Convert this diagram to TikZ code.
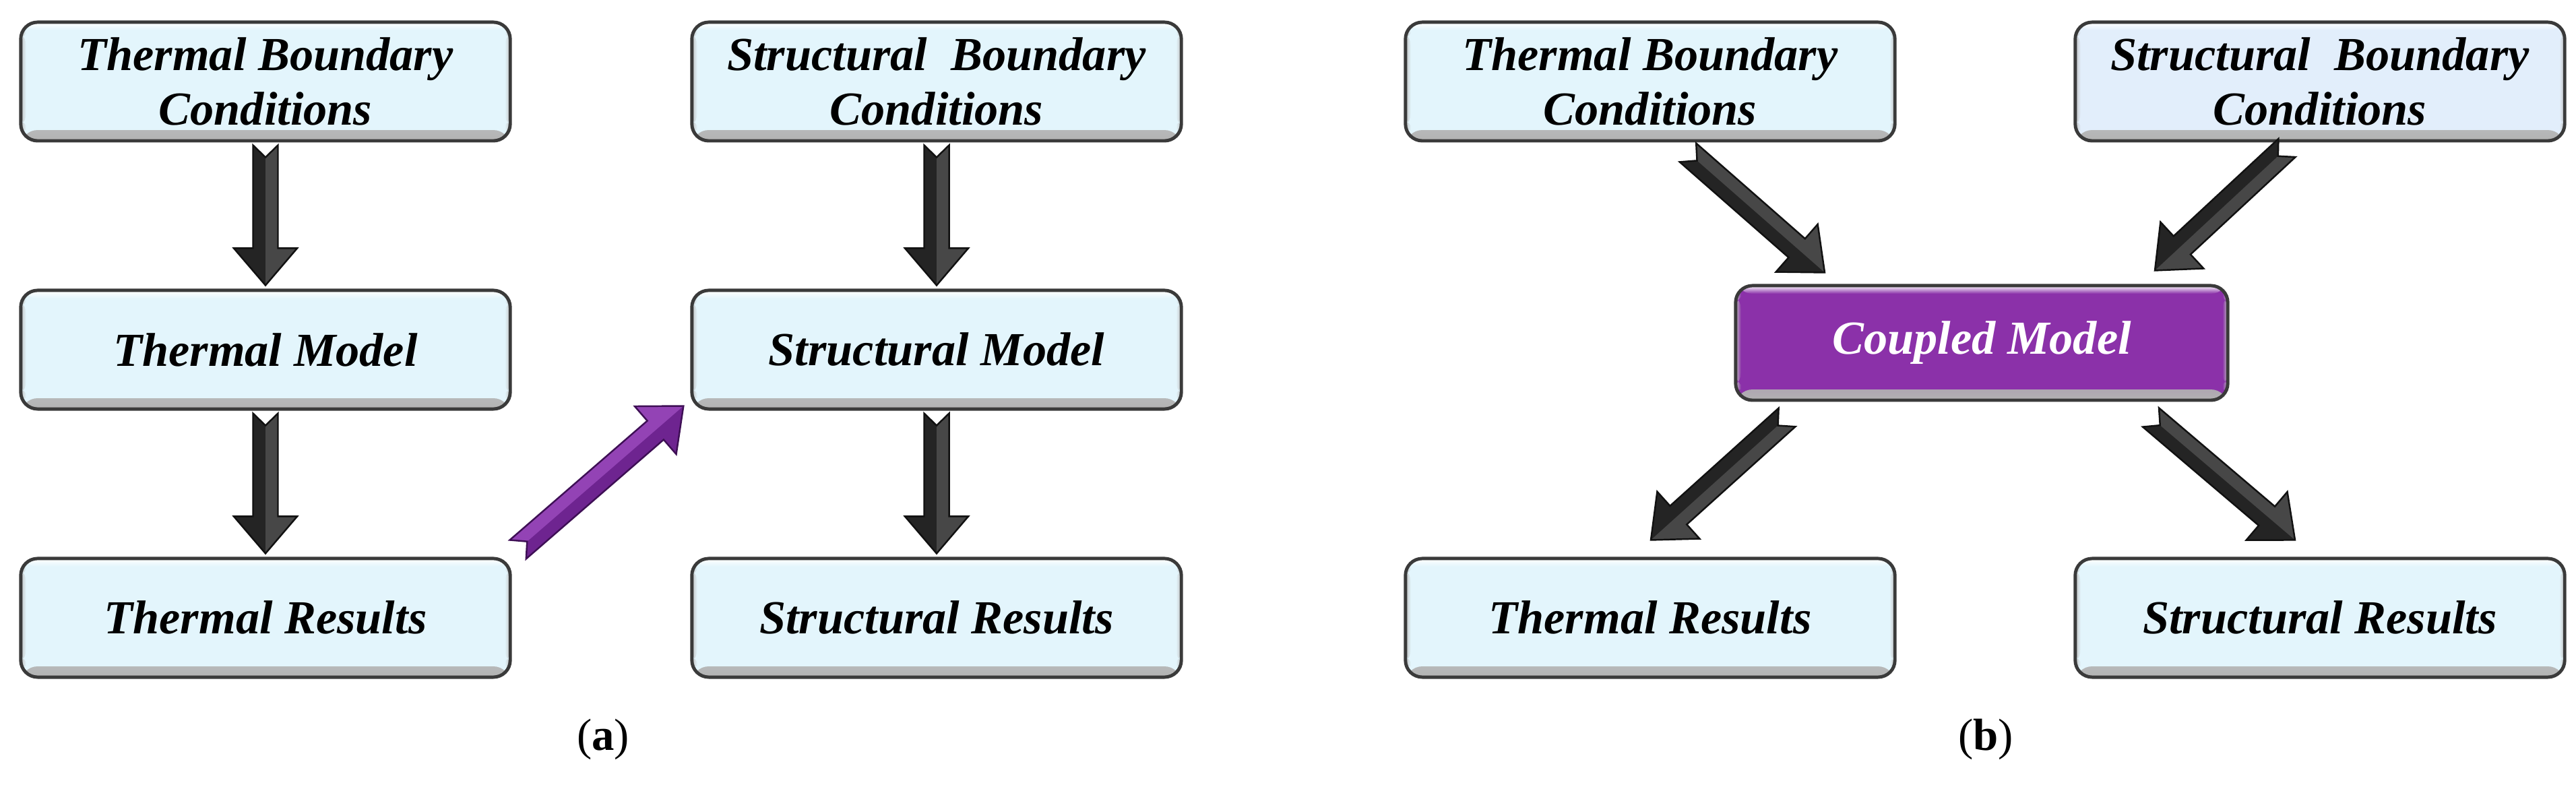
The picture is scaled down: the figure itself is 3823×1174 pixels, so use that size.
\documentclass[tikz,border=0pt]{standalone}
\usepackage{fontspec}
\setmainfont{Liberation Serif}
\usetikzlibrary{calc}
\definecolor{boxfill}{HTML}{E3F5FC}
\definecolor{boxfillb}{HTML}{E2EEFB}
\definecolor{boxline}{HTML}{3A3A3A}
\definecolor{arrowdark}{HTML}{242424}
\definecolor{arrowlight}{HTML}{474747}
\definecolor{arrowline}{HTML}{111111}
\definecolor{purplefill}{HTML}{8B31A9}
\definecolor{purpledark}{HTML}{6E2490}
\definecolor{purplelight}{HTML}{9343B5}
\definecolor{purpleline}{HTML}{3E0F55}
\tikzset{
  flowbox/.style={draw=boxline, line width=1.4pt, rounded corners=0.25cm,
    fill=#1, minimum width=7.26cm, minimum height=1.76cm, align=center,
    font=\fontsize{20}{23}\selectfont\bfseries\itshape,
    path picture={
      \shade[top color=#1, bottom color=black!30]
        ([yshift=0.16cm]path picture bounding box.south west) rectangle (path picture bounding box.south east);
      \shade[top color=white, bottom color=#1]
        (path picture bounding box.north west) rectangle ([yshift=-0.12cm]path picture bounding box.north east);
      \shade[left color=black!25, right color=#1]
        ([yshift=-0.1cm]path picture bounding box.north west) rectangle ([xshift=0.08cm,yshift=0.16cm]path picture bounding box.south west);
      \shade[right color=black!25, left color=#1]
        ([yshift=-0.1cm]path picture bounding box.north east) rectangle ([xshift=-0.08cm,yshift=0.16cm]path picture bounding box.south east);
    }},
  flowbox/.default=boxfill,
  blockarrow/.style={to path={
    ($(\tikztostart)!0.185cm!90:(\tikztotarget)$)
    -- ($(\tikztotarget)!0.55cm!(\tikztostart)!0.185cm!-90:(\tikztostart)$)
    -- ($(\tikztotarget)!0.55cm!(\tikztostart)!0.47cm!-90:(\tikztostart)$)
    -- (\tikztotarget)
    -- ($(\tikztotarget)!0.55cm!(\tikztostart)!0.47cm!90:(\tikztostart)$)
    -- ($(\tikztotarget)!0.55cm!(\tikztostart)!0.185cm!90:(\tikztostart)$)
    -- ($(\tikztostart)!0.185cm!-90:(\tikztotarget)$)
    -- ($(\tikztostart)!0.18cm!(\tikztotarget)$)
    -- cycle}},
  halfarrow/.style={to path={
    ($(\tikztostart)!0.18cm!(\tikztotarget)$)
    -- ($(\tikztostart)!0.185cm!90:(\tikztotarget)$)
    -- ($(\tikztotarget)!0.55cm!(\tikztostart)!0.185cm!-90:(\tikztostart)$)
    -- ($(\tikztotarget)!0.55cm!(\tikztostart)!0.47cm!-90:(\tikztostart)$)
    -- (\tikztotarget)
    -- cycle}},
  darkbase/.style={fill=arrowdark},
  darkhalf/.style={fill=arrowlight},
  darkedge/.style={draw=arrowline, line width=0.7pt, line join=miter},
  purplebase/.style={fill=purpledark},
  purplehalf/.style={fill=purplelight},
  purpleedge/.style={draw=purpleline, line width=0.7pt, line join=miter},
  sublabel/.style={font=\fontsize{19}{22}\selectfont}
}
% #1 = colour family (dark/purple), #2 = start, #3 = end
\newcommand{\bevelarrow}[3]{%
  \path[#1base] (#2) to[blockarrow] (#3);
  \path[#1half] (#2) to[halfarrow] (#3);
  \path[#1edge] (#2) to[blockarrow] (#3);
}
\begin{document}
\begin{tikzpicture}[x=0.01cm, y=-0.01cm]
\useasboundingbox (0,0) rectangle (3823,1174);
% panel (a)
\node[flowbox] (tbc) at (394,121) {Thermal Boundary\\Conditions};
\node[flowbox] (tm) at (394,519) {Thermal Model};
\node[flowbox] (tr) at (394,917) {Thermal Results};
\node[flowbox] (sbc) at (1390,121) {Structural~ Boundary\\Conditions};
\node[flowbox] (sm) at (1390,519) {Structural Model};
\node[flowbox] (sr) at (1390,917) {Structural Results};
\bevelarrow{dark}{$(tbc.south)+(0,4)$}{$(tm.north)+(0,-5)$}
\bevelarrow{dark}{$(tm.south)+(0,4)$}{$(tr.north)+(0,-5)$}
\bevelarrow{dark}{$(sbc.south)+(0,4)$}{$(sm.north)+(0,-5)$}
\bevelarrow{dark}{$(sm.south)+(0,4)$}{$(sr.north)+(0,-5)$}
\bevelarrow{purple}{$(tr.north east)+(9,-11)$}{$(sm.south west)+(-10,-7)$}
\node[sublabel] (la) at (895,1097) {(\textbf{a})};
% panel (b)
\node[flowbox] (tbc2) at (2449,121) {Thermal Boundary\\Conditions};
\node[flowbox=boxfillb] (sbc2) at (3443,121) {Structural~ Boundary\\Conditions};
\node[flowbox=purplefill, minimum width=7.3cm, minimum height=1.7cm, text=white] (cm) at (2941,509) {Coupled Model};
\node[flowbox] (tr2) at (2449,917) {Thermal Results};
\node[flowbox] (sr2) at (3443,917) {Structural Results};
\bevelarrow{dark}{$(tbc2.south)+(56,15)$}{$(cm.north)+(-233,-17)$}
\bevelarrow{dark}{$(sbc2.south)+(-49,8)$}{$(cm.north)+(257,-20)$}
\bevelarrow{dark}{$(cm.south)+(-289,23)$}{$(tr2.north)+(1,-25)$}
\bevelarrow{dark}{$(cm.south)+(251,23)$}{$(sr2.north)+(-37,-25)$}
\node[sublabel] (lb) at (2947,1097) {(\textbf{b})};
\end{tikzpicture}
\end{document}
